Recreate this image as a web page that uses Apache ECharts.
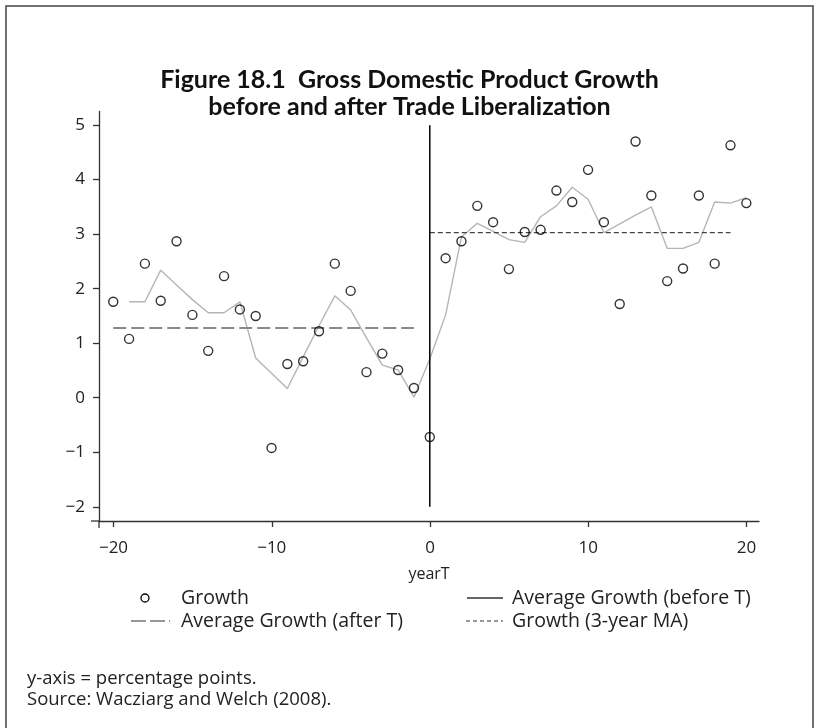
<!DOCTYPE html>
<html>
<head>
<meta charset="utf-8">
<script src="https://cdn.jsdelivr.net/npm/echarts@6/dist/echarts.min.js"></script>
<style>
html,body{margin:0;padding:0;background:#fff;}
#chart{width:819px;height:728px;}
</style>
</head>
<body>
<div id="chart"></div>
<script>
// ---- data ----
const years = [-20,-19,-18,-17,-16,-15,-14,-13,-12,-11,-10,-9,-8,-7,-6,-5,-4,-3,-2,-1,0,
               1,2,3,4,5,6,7,8,9,10,11,12,13,14,15,16,17,18,19,20];
const growth = [1.76,1.08,2.46,1.78,2.87,1.52,0.86,2.23,1.62,1.50,-0.92,0.62,0.67,1.22,2.46,1.96,0.47,0.81,0.51,0.18,-0.72,
                2.56,2.87,3.52,3.22,2.36,3.04,3.08,3.80,3.59,4.18,3.22,1.72,4.70,3.71,2.14,2.37,3.71,2.46,4.63,3.57];
const maYears = [-19,-18,-17,-16,-15,-14,-13,-12,-11,-10,-9,-8,-7,-6,-5,-4,-3,-2,-1,0,
                 1,2,3,4,5,6,7,8,9,10,11,12,13,14,15,16,17,18,19,20];
const maGrowth = [1.76,1.76,2.34,2.07,1.80,1.56,1.56,1.76,0.73,0.45,0.17,0.75,1.32,1.87,1.61,1.10,0.60,0.51,0.01,0.71,
                  1.52,2.95,3.20,3.05,2.90,2.85,3.32,3.52,3.86,3.64,3.03,3.19,3.35,3.50,2.74,2.74,2.85,3.59,3.57,3.67];
const beforeSpan = [-20,-1];
const beforeAvg = 1.28;
const afterSpan = [0,19];
const afterAvg = 3.03;
const tLineYear = 0;
const tLineRange = [-2,5];
const xTicks = [-20,-10,0,10,20];
const yTicks = [-2,-1,0,1,2,3,4,5];

const titleText = 'Figure 18.1  Gross Domestic Product Growth\nbefore and after Trade Liberalization';
const xName = 'yearT';
const legendLabels = ['Growth','Average Growth (before T)','Average Growth (after T)','Growth (3-year MA)'];
const notes = ['y-axis = percentage points.','Source: Wacziarg and Welch (2008).'];

// ---- chart ----
const TFONT = 'Lato';
const FONT = 'Open Sans';
const chart = echarts.init(document.getElementById('chart'), null, {renderer:'canvas'});
const fmt = v => String(v).replace('-', '\u2212');
const LF = '19.5px "' + FONT + '"';
const NF = '18.5px "' + FONT + '"';
const R1 = 598, R2 = 621;

const option = {
  backgroundColor:'#fff',
  animation:false,
  title:{
    text:titleText, left:'center', top:61,
    textStyle:{fontFamily:TFONT, fontWeight:'bold', fontSize:25, lineHeight:27, color:'#111'}
  },
  grid:[
    {left:99, top:111.5, width:660, height:409.5},
    {left:113.5, right:72.5, top:125.1, bottom:221.2}
  ],
  xAxis:[
    {gridIndex:0, type:'value', min:-20.9, max:20.8,
     axisLine:{show:true, onZero:false, lineStyle:{color:'#333', width:1.3}},
     axisTick:{show:false}, axisLabel:{show:false}, splitLine:{show:false},
     name:xName, nameLocation:'middle', nameGap:45,
     nameTextStyle:{fontFamily:FONT, fontSize:16, color:'#222'}},
    {gridIndex:1, type:'value', min:xTicks[0], max:xTicks[xTicks.length-1], interval:10, offset:14.2,
     axisLine:{show:false, onZero:false},
     axisTick:{show:true, length:6, lineStyle:{color:'#333', width:1.3}},
     axisLabel:{show:true, margin:19, fontFamily:FONT, fontSize:17, color:'#222', formatter:fmt},
     splitLine:{show:false}}
  ],
  yAxis:[
    {gridIndex:0, type:'value', min:-2.26, max:5.25,
     axisLine:{show:true, onZero:false, lineStyle:{color:'#333', width:1.3}},
     axisTick:{show:false}, axisLabel:{show:false}, splitLine:{show:false}},
    {gridIndex:1, type:'value', min:yTicks[0], max:yTicks[yTicks.length-1], interval:1, offset:14.5,
     axisLine:{show:false, onZero:false},
     axisTick:{show:true, length:6, lineStyle:{color:'#333', width:1.3}},
     axisLabel:{show:true, margin:14, fontFamily:FONT, fontSize:17, color:'#222', formatter:fmt},
     splitLine:{show:false}}
  ],
  series:[
    {type:'line', name:'ma', xAxisIndex:0, yAxisIndex:0, symbol:'none',
     data:maYears.map((x,i)=>[x,maGrowth[i]]),
     lineStyle:{color:'#b5b5b5', width:1.4}, z:2},
    {type:'line', name:'before', xAxisIndex:0, yAxisIndex:0, symbol:'none',
     data:beforeSpan.map(x=>[x,beforeAvg]),
     lineStyle:{color:'#8a8a8a', width:2, type:[13,5]}, z:2},
    {type:'line', name:'after', xAxisIndex:0, yAxisIndex:0, symbol:'none',
     data:afterSpan.map(x=>[x,afterAvg]),
     lineStyle:{color:'#444', width:1.2, type:[5,3]}, z:2},
    {type:'line', name:'T', xAxisIndex:0, yAxisIndex:0, symbol:'none',
     data:tLineRange.map(y=>[tLineYear,y]),
     lineStyle:{color:'#000', width:1.5}, z:3},
    {type:'scatter', name:'Growth', xAxisIndex:0, yAxisIndex:0,
     data:years.map((x,i)=>[x,growth[i]]),
     symbol:'circle', symbolSize:9,
     itemStyle:{color:'rgba(255,255,255,0)', borderColor:'#000', borderWidth:1.4}, z:5}
  ],
  graphic:[
    {type:'rect', shape:{x:6, y:6, width:807, height:760}, style:{fill:'none', stroke:'#444', lineWidth:1.5}, silent:true},
    // axis overhangs (Stata style)
    {type:'line', shape:{x1:91, y1:521, x2:99, y2:521}, style:{stroke:'#333', lineWidth:1.3}},
    {type:'line', shape:{x1:99, y1:521, x2:99, y2:528}, style:{stroke:'#333', lineWidth:1.3}},
    // legend row 1
    {type:'circle', shape:{cx:145, cy:R1, r:4}, style:{fill:'none', stroke:'#000', lineWidth:1.3}},
    {type:'text', style:{x:181, y:R1, text:legendLabels[0], font:LF, fill:'#222', verticalAlign:'middle'}},
    {type:'line', shape:{x1:467, y1:R1, x2:503, y2:R1}, style:{stroke:'#666', lineWidth:2.2}},
    {type:'text', style:{x:512, y:R1, text:legendLabels[1], font:LF, fill:'#222', verticalAlign:'middle'}},
    // legend row 2
    {type:'line', shape:{x1:131, y1:R2, x2:170, y2:R2}, style:{stroke:'#777', lineWidth:1.5, lineDash:[15,4]}},
    {type:'text', style:{x:181, y:R2, text:legendLabels[2], font:LF, fill:'#222', verticalAlign:'middle'}},
    {type:'line', shape:{x1:466, y1:R2, x2:503, y2:R2}, style:{stroke:'#333', lineWidth:1.2, lineDash:[4,3]}},
    {type:'text', style:{x:512, y:R2, text:legendLabels[3], font:LF, fill:'#222', verticalAlign:'middle'}},
    // notes
    {type:'text', style:{x:27, y:679, text:notes[0], font:NF, fill:'#222', verticalAlign:'middle'}},
    {type:'text', style:{x:27, y:700, text:notes[1], font:NF, fill:'#222', verticalAlign:'middle'}}
  ]
};
chart.setOption(option);
</script>
</body>
</html>
